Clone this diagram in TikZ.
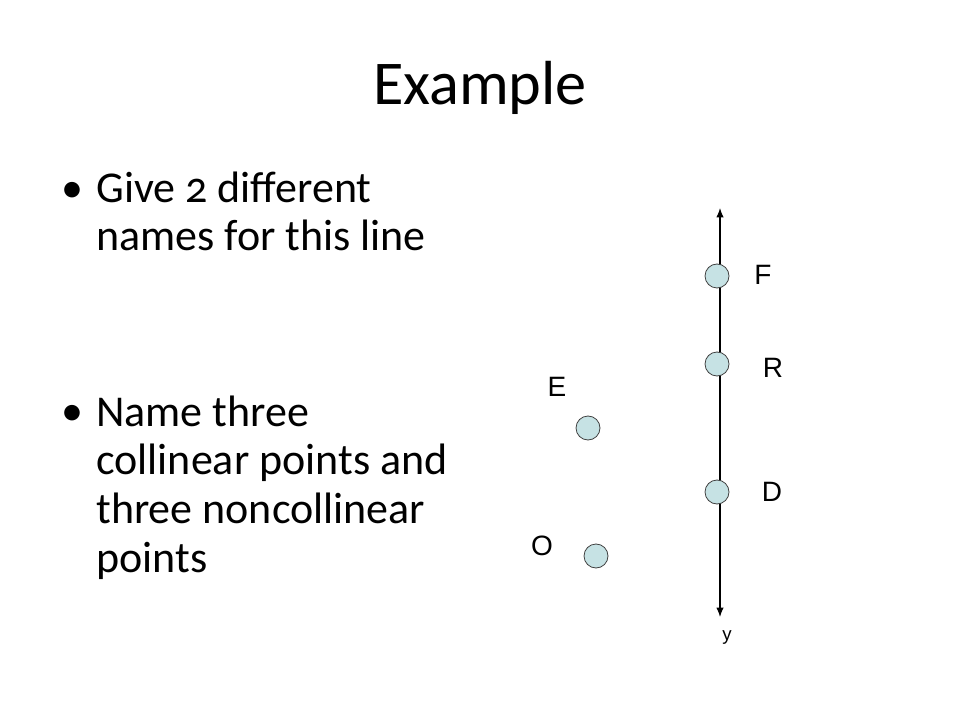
\documentclass[tikz,border=0pt]{standalone}
\usepackage{fontspec}
\setmainfont{Carlito}[Numbers=OldStyle]
\newfontfamily\labelfont{Liberation Sans}
\usepackage{tikz}
\usetikzlibrary{arrows.meta}
\pgfdeclarelayer{background}
\pgfdeclarelayer{foreground}
\pgfsetlayers{background,main,foreground}
\definecolor{dotfill}{HTML}{C6E2E4}
\definecolor{dotline}{HTML}{404040}
\tikzset{
  ptdot/.style={circle,draw=dotline,fill=dotfill,line width=0.6pt,minimum size=18pt,inner sep=0pt},
  ptlabel/.style={font=\labelfont\fontsize{21}{23}\selectfont,inner sep=0pt},
  bulletext/.style={anchor=base west,align=left,inner sep=0pt,font=\fontsize{33}{36.5}\selectfont}
}

\begin{document}
\begin{tikzpicture}[x=0.75pt,y=-0.75pt]
\useasboundingbox (0,0) rectangle (960,720);
\node[anchor=base,inner sep=0pt,font=\fontsize{46.7}{50}\selectfont] (title) at (480,105) {Example};
% bullets (anchored at the last baseline)
\node[anchor=base,inner sep=0pt,font=\fontsize{33}{36.5}\selectfont] (b1) at (72,203) {\textbullet};
\node[bulletext] (q1) at (96,251) {Give 2 different\\names for this line};
\node[anchor=base,inner sep=0pt,font=\fontsize{33}{36.5}\selectfont] (b2) at (72,425) {\textbullet};
\node[bulletext] (q2) at (96,572) {Name three\\collinear points and\\three noncollinear\\points};
\begin{pgfonlayer}{background}
\coordinate (top) at (720,208);
\coordinate (bot) at (720,617);
\draw[line width=0.9pt,{Latex[length=7pt,width=5.5pt]}-{Latex[length=7pt,width=5.5pt]}] (top) -- (bot);
\end{pgfonlayer}
\begin{pgfonlayer}{foreground}
\node[ptdot] (F) at (717,276) {};
\node[ptdot] (R) at (717,364) {};
\node[ptdot] (D) at (717,492) {};
\node[ptdot] (E) at (588,428) {};
\node[ptdot] (O) at (596,556) {};
\end{pgfonlayer}
\node[ptlabel] (lF) at (763,275) {F};
\node[ptlabel] (lR) at (773,368) {R};
\node[ptlabel] (lE) at (557,387) {E};
\node[ptlabel] (lD) at (772,492) {D};
\node[ptlabel] (lO) at (542,546) {O};
\node[ptlabel,font=\labelfont\fontsize{14}{16}\selectfont] (ly) at (727,638) {y};
\end{tikzpicture}
\end{document}
